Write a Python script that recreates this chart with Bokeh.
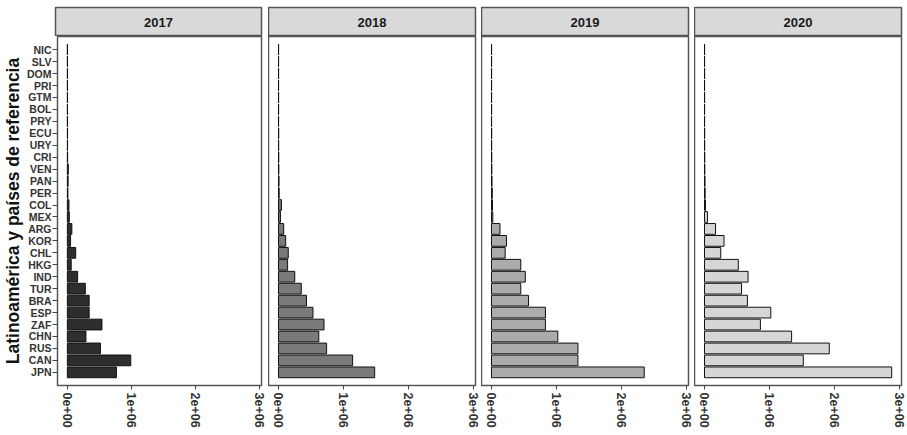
from bokeh.plotting import figure
from bokeh.layouts import row, column
from bokeh.models import Range1d, FactorRange, FixedTicker, Label
from bokeh.embed import file_html
from bokeh.resources import INLINE

# ---- data ----
countries = ["NIC", "SLV", "DOM", "PRI", "GTM", "BOL", "PRY", "ECU", "URY", "CRI",
             "VEN", "PAN", "PER", "COL", "MEX", "ARG", "KOR", "CHL", "HKG", "IND",
             "TUR", "BRA", "ESP", "ZAF", "CHN", "RUS", "CAN", "JPN"]
years = ["2017", "2018", "2019", "2020"]
v2017 = [1000, 1500, 2000, 1500, 2000, 2000, 1500, 3000, 2500, 4000,
         15000, 12000, 8000, 25000, 30000, 70000, 50000, 130000, 60000, 160000,
         280000, 340000, 340000, 540000, 290000, 516000, 990000, 766000]
v2018 = [1500, 1500, 2000, 1500, 2000, 2000, 1500, 3000, 2500, 4000,
         5000, 8000, 10000, 45000, 30000, 80000, 110000, 150000, 140000, 250000,
         350000, 430000, 530000, 700000, 620000, 740000, 1140000, 1480000]
v2019 = [1500, 1500, 2000, 1500, 2000, 2000, 1500, 3000, 2500, 4000,
         5000, 8000, 12000, 15000, 20000, 130000, 230000, 210000, 450000, 520000,
         450000, 570000, 830000, 830000, 1020000, 1330000, 1330000, 2350000]
v2020 = [1500, 1500, 2000, 1500, 2000, 2000, 1500, 3000, 2500, 4000,
         5000, 8000, 10000, 15000, 45000, 170000, 300000, 250000, 520000, 670000,
         570000, 660000, 1020000, 860000, 1340000, 1920000, 1520000, 2880000]
values = [v2017, v2018, v2019, v2020]
fill_colors = ["#2e2e2e", "#7a7a7a", "#ababab", "#d6d6d6"]
x_ticks = [0, 1000000, 2000000, 3000000]
x_tick_labels = ["0e+00", "1e+06", "2e+06", "3e+06"]
y_title = "Latinoamérica y países de referencia"

SANS = "'Liberation Sans', Arial, sans-serif"

FRAME_W = [206, 207, 207, 207]
LEFT = [55, 0, 0, 0]
RIGHT = [7, 6, 6, 5]
STRIP_TOP = 7
STRIP_H = 29
FRAME_H = 349
BOTTOM = 48
BORDER_COL = "#555555"

factors = list(reversed(countries))

strips = []
panels = []
for i, (yr, vals, col) in enumerate(zip(years, values, fill_colors)):
    w = LEFT[i] + FRAME_W[i] + RIGHT[i]

    s = figure(width=w, height=STRIP_TOP + STRIP_H, x_range=Range1d(0, 1), y_range=Range1d(0, 1),
               output_backend="svg", toolbar_location=None,
               min_border_left=LEFT[i], min_border_right=RIGHT[i],
               min_border_top=STRIP_TOP, min_border_bottom=0,
               background_fill_color="#d9d9d9", outline_line_color=BORDER_COL,
               outline_line_width=1.5)
    s.axis.visible = False
    s.grid.visible = False
    s.add_layout(Label(x=0.5, y=0.5, text=yr, text_align="center", text_baseline="middle",
                       text_font=SANS, text_font_style="bold", text_font_size="13px",
                       text_color="#1a1a1a"))
    strips.append(s)

    p = figure(width=w, height=FRAME_H + BOTTOM,
               x_range=Range1d(-154000, 3031000),
               y_range=FactorRange(factors=factors, range_padding=1.2 / 28,
                                   range_padding_units="percent"),
               output_backend="svg", toolbar_location=None,
               min_border_left=LEFT[i], min_border_right=RIGHT[i], min_border_top=0,
               min_border_bottom=BOTTOM,
               outline_line_color=BORDER_COL, outline_line_width=1.5)
    p.hbar(y=countries, left=0, right=vals, height=0.9, fill_color=col,
           line_color="#111111", line_width=1)
    p.grid.visible = False

    xa = p.xaxis[0]
    xa.ticker = FixedTicker(ticks=x_ticks)
    xa.major_label_overrides = {t: lab for t, lab in zip(x_ticks, x_tick_labels)}
    xa.major_label_orientation = "vertical"
    xa.major_label_text_font = SANS
    xa.major_label_text_font_style = "bold"
    xa.major_label_text_font_size = "12.5px"
    xa.major_label_text_color = "#333333"
    xa.major_label_standoff = 3
    xa.axis_line_color = None
    xa.major_tick_line_color = "#444444"
    xa.major_tick_in = 0
    xa.major_tick_out = 4
    xa.minor_tick_line_color = None

    if i == 0:
        ya = p.yaxis[0]
        ya.axis_label = y_title
        ya.axis_label_text_font = SANS
        ya.axis_label_text_font_style = "bold"
        ya.axis_label_text_font_size = "17.5px"
        ya.axis_label_text_color = "#111111"
        ya.axis_label_standoff = 1
        ya.major_label_text_font = SANS
        ya.major_label_text_font_style = "bold"
        ya.major_label_text_font_size = "10.5px"
        ya.major_label_text_color = "#333333"
        ya.major_label_standoff = 1
        ya.axis_line_color = None
        ya.major_tick_line_color = "#444444"
        ya.major_tick_in = 0
        ya.major_tick_out = 5
    else:
        p.yaxis.visible = False
    panels.append(p)

layout = column(row(*strips, spacing=0), row(*panels, spacing=0), spacing=0)

with open("out.html", "w") as f:
    f.write(file_html(layout, INLINE))
